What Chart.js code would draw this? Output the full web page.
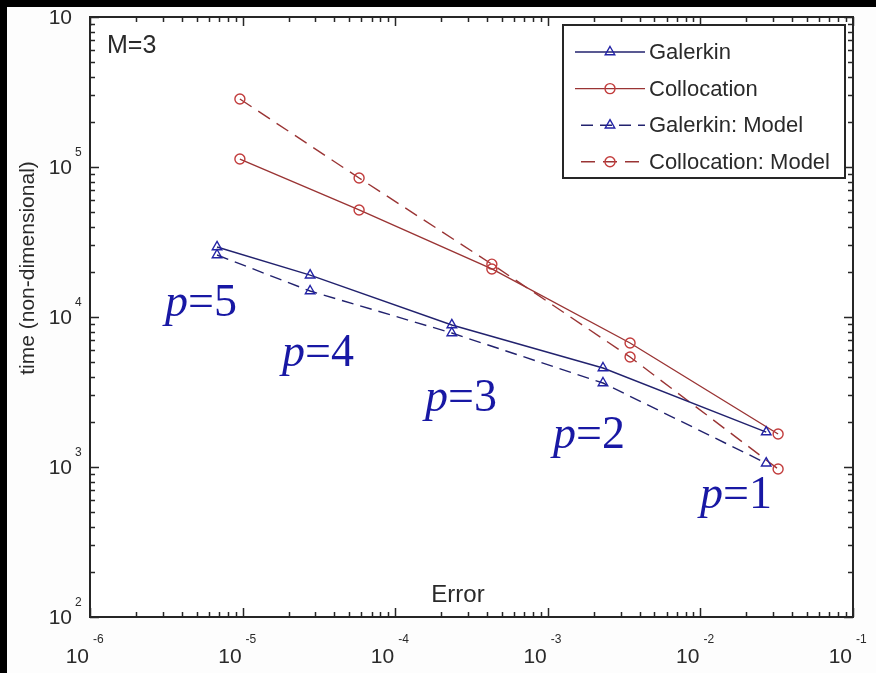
<!DOCTYPE html>
<html>
<head>
<meta charset="utf-8">
<script src="https://cdn.jsdelivr.net/npm/chart.js@4.4.1/dist/chart.umd.min.js"></script>
<style>
  html, body { margin: 0; padding: 0; background: #fdfdfd; }
  #wrap { width: 876px; height: 673px; }
</style>
</head>
<body>
<div id="wrap"><canvas id="chart" width="876" height="673"></canvas></div>
<script>
// polynomial order of each point, left to right
const polyOrder = [5, 4, 3, 2, 1];

const galerkinError = [6.8e-6, 2.77e-5, 2.35e-4, 2.3e-3, 2.7e-2];
const galerkinTime = [29300, 19000, 8850, 4570, 1710];
const galerkinModelTime = [25900, 14900, 7820, 3630, 1060];

const collocationError = [9.6e-6, 5.8e-5, 4.3e-4, 3.46e-3, 3.23e-2];
const collocationTime = [113000, 51700, 20900, 6710, 1660];
const collocationModelTime = [284000, 84500, 22500, 5410, 970];

const seriesLabels = ['Galerkin', 'Collocation', 'Galerkin: Model', 'Collocation: Model'];

// decade exponents for tick labels
const xDecades = [-6, -5, -4, -3, -2, -1];
const yDecades = [2, 3, 4, 5, 6];

const BLUE_LINE = '#22226e';
const BLUE_MARK = '#2323a6';
const RED_LINE = '#9a3434';
const RED_MARK = '#c23c3c';
const AXIS = '#262626';
const TEXT = '#2a2a2a';

function pts(xs, ys) {
  return xs.map((x, i) => ({ x: x, y: ys[i] }));
}

function series(label, xs, ys, line, mark, style, r, dash) {
  return {
    label: label,
    data: pts(xs, ys),
    borderColor: line,
    borderWidth: 1.4,
    borderDash: dash,
    pointStyle: style,
    pointRadius: r,
    pointBorderColor: mark,
    pointBackgroundColor: 'rgba(0,0,0,0)',
    pointBorderWidth: 1.4,
    tension: 0,
    fill: false
  };
}

const datasets = [
  series(seriesLabels[0], galerkinError, galerkinTime, BLUE_LINE, BLUE_MARK, 'triangle', 5.5, []),
  series(seriesLabels[1], collocationError, collocationTime, RED_LINE, RED_MARK, 'circle', 5, []),
  series(seriesLabels[2], galerkinError, galerkinModelTime, BLUE_LINE, BLUE_MARK, 'triangle', 5.5, [12, 7]),
  series(seriesLabels[3], collocationError, collocationModelTime, RED_LINE, RED_MARK, 'circle', 5, [14, 8])
];

// "p=n" annotations (left x, baseline y in px)
const pLabelPos = [[165, 316], [282, 366], [425, 411], [553, 448], [700, 508]];

const figure = {
  id: 'figure',
  beforeDraw(chart) {
    const ctx = chart.ctx;
    const a = chart.chartArea;
    ctx.save();
    ctx.fillStyle = '#fdfdfd';
    ctx.fillRect(0, 0, chart.width, chart.height);
    ctx.fillStyle = '#ffffff';
    ctx.fillRect(a.left, a.top, a.right - a.left, a.bottom - a.top);
    ctx.restore();
  },
  afterDraw(chart) {
    const ctx = chart.ctx;
    const a = chart.chartArea;
    const xs = chart.scales.x, ys = chart.scales.y;
    ctx.save();

    // box
    ctx.strokeStyle = AXIS;
    ctx.lineWidth = 2;
    ctx.strokeRect(a.left, a.top, a.right - a.left, a.bottom - a.top);

    // ticks, inside on all four sides
    ctx.lineWidth = 1.5;
    ctx.beginPath();
    xDecades.forEach(d => {
      for (let k = 1; k <= 9; k++) {
        const v = k * Math.pow(10, d);
        if (v > xs.max * 1.0001) break;
        const px = Math.round(xs.getPixelForValue(v)) + 0.5;
        const len = k === 1 ? 9 : 5;
        ctx.moveTo(px, a.bottom); ctx.lineTo(px, a.bottom - len);
        ctx.moveTo(px, a.top); ctx.lineTo(px, a.top + len);
      }
    });
    yDecades.forEach(d => {
      for (let k = 1; k <= 9; k++) {
        const v = k * Math.pow(10, d);
        if (v > ys.max * 1.0001) break;
        const py = Math.round(ys.getPixelForValue(v)) + 0.5;
        const len = k === 1 ? 9 : 5;
        ctx.moveTo(a.left, py); ctx.lineTo(a.left + len, py);
        ctx.moveTo(a.right, py); ctx.lineTo(a.right - len, py);
      }
    });
    ctx.stroke();

    // tick labels 10^n
    ctx.fillStyle = TEXT;
    ctx.textBaseline = 'middle';
    xDecades.forEach(d => {
      const px = xs.getPixelForValue(Math.pow(10, d));
      ctx.font = '21px "Liberation Sans", Arial, sans-serif';
      ctx.textAlign = 'right';
      ctx.fillText('10', px - 1, a.bottom + 40);
      ctx.font = '12px "Liberation Sans", Arial, sans-serif';
      ctx.textAlign = 'left';
      ctx.fillText(String(d), px + 3, a.bottom + 23);
    });
    yDecades.forEach(d => {
      const py = ys.getPixelForValue(Math.pow(10, d));
      ctx.font = '21px "Liberation Sans", Arial, sans-serif';
      ctx.textAlign = 'right';
      ctx.fillText('10', a.left - 18, py + 1);
      ctx.font = '12px "Liberation Sans", Arial, sans-serif';
      ctx.textAlign = 'left';
      ctx.fillText(String(d), a.left - 15, py - 14);
    });

    // axis titles
    ctx.font = '24px "Liberation Sans", Arial, sans-serif';
    ctx.textAlign = 'center';
    ctx.textBaseline = 'alphabetic';
    ctx.fillText('Error', 458, 602);
    ctx.save();
    ctx.translate(34, 268);
    ctx.rotate(-Math.PI / 2);
    ctx.font = '21px "Liberation Sans", Arial, sans-serif';
    ctx.fillText('time (non-dimensional)', 0, 0);
    ctx.restore();

    ctx.textAlign = 'left';
    ctx.font = '25px "Liberation Sans", Arial, sans-serif';
    ctx.fillText('M=3', 107, 53);

    // p = n annotations
    ctx.fillStyle = '#1818a4';
    polyOrder.forEach((p, i) => {
      const [lx, by] = pLabelPos[i];
      ctx.font = 'italic 46px "Liberation Serif", "Times New Roman", serif';
      ctx.fillText('p', lx, by);
      const w = ctx.measureText('p').width;
      ctx.font = '46px "Liberation Serif", "Times New Roman", serif';
      ctx.fillText('=' + p, lx + w, by);
    });

    // legend
    const box = { l: 563, t: 25, r: 845, b: 178 };
    ctx.fillStyle = '#ffffff';
    ctx.fillRect(box.l, box.t, box.r - box.l, box.b - box.t);
    ctx.strokeStyle = AXIS;
    ctx.lineWidth = 2;
    ctx.strokeRect(box.l, box.t, box.r - box.l, box.b - box.t);
    chart.data.datasets.forEach((ds, i) => {
      const y = 52 + i * 36.6;
      const dash = ds.borderDash || [];
      ctx.strokeStyle = ds.borderColor;
      ctx.lineWidth = ds.borderWidth;
      ctx.setLineDash(dash);
      ctx.lineDashOffset = dash.length ? dash[0] + dash[1] - 6 : 0;
      ctx.beginPath();
      ctx.moveTo(575, y); ctx.lineTo(645, y);
      ctx.stroke();
      ctx.setLineDash([]);
      ctx.lineDashOffset = 0;
      ctx.strokeStyle = ds.pointBorderColor;
      ctx.fillStyle = ds.pointBackgroundColor;
      ctx.lineWidth = ds.pointBorderWidth;
      Chart.helpers.drawPoint(ctx, {
        pointStyle: ds.pointStyle, radius: ds.pointRadius, rotation: 0, borderWidth: ds.pointBorderWidth
      }, 610, y);
      ctx.fillStyle = TEXT;
      ctx.font = '22px "Liberation Sans", Arial, sans-serif';
      ctx.textBaseline = 'middle';
      ctx.fillText(ds.label, 649, y + 1);
    });

    // dark frame strips along the top and left edges of the picture
    ctx.fillStyle = '#000000';
    ctx.fillRect(0, 0, chart.width, 7);
    ctx.fillRect(0, 0, 7, chart.height);
    ctx.restore();
  }
};

new Chart(document.getElementById('chart'), {
  type: 'line',
  data: { datasets: datasets },
  options: {
    responsive: false,
    animation: false,
    devicePixelRatio: 1,
    layout: { padding: { left: 90, top: 17, right: 23, bottom: 56 } },
    scales: {
      x: { type: 'logarithmic', min: 1e-6, max: 1e-1, display: false },
      y: { type: 'logarithmic', min: 1e2, max: 1e6, display: false }
    },
    plugins: {
      legend: { display: false },
      tooltip: { enabled: false }
    }
  },
  plugins: [figure]
});
</script>
</body>
</html>
